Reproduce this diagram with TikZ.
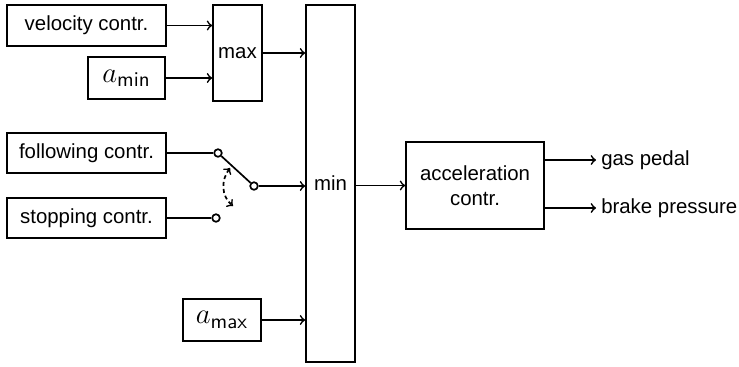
\documentclass[tikz,border=0pt]{standalone}
\usepackage{fontspec}
\setmainfont{Liberation Sans}
\usetikzlibrary{positioning,calc}

\begin{document}
\begin{tikzpicture}[x=0.5pt,y=-0.5pt,line width=0.85pt,
    font=\fontsize{10.2}{12.2}\selectfont,
    block/.style={rectangle,draw,inner sep=0pt},
    pin/.style={circle,draw,fill=white,inner sep=0pt,minimum size=3.8pt},
    mathlabel/.style={font=\fontsize{15}{17}\selectfont}]
    \useasboundingbox (0,0) rectangle (739,366);

    % max of velocity controller and a_min
    \node[block,minimum width=79.5pt,minimum height=20.5pt] (vel) at (86.5,25.5) {velocity contr.};
    \node[block,mathlabel,minimum width=38.5pt,minimum height=21pt] (amin) at (126.5,78) {$a_{\mathsf{min}}$};
    \node[block,minimum width=24.5pt,minimum height=48pt] (maxb) at (237.5,53) {max};
    \draw[->] (vel.east) -- (vel.east -| maxb.west);
    \draw[->] (amin.east) -- (amin.east -| maxb.west);

    % min block
    \node[block,minimum width=24.5pt,minimum height=178.5pt] (minb) at (330.5,183.5) {min};
    \draw[->] (maxb.east) -- (maxb.east -| minb.west);

    % switch between following and stopping
    \node[block,minimum width=79.5pt,minimum height=20pt] (follow) at (86.5,153) {following contr.};
    \node[block,minimum width=79.5pt,minimum height=20pt] (stop) at (86.5,218) {stopping contr.};
    \node[pin] (p1) at (218,153) {};
    \node[pin] (p2) at (254,186) {};
    \node[pin] (p3) at (216,218) {};
    \draw (follow.east) -- (p1);
    \draw (stop.east) -- (p3);
    \draw (p1) -- (p2);
    \draw[->] (p2) -- (p2 -| minb.west);
    \coordinate (sw1) at (230,168);
    \coordinate (sw2) at (233,206);
    \draw[<->,dash pattern=on 2pt off 1.5pt] (sw1) .. controls (221,180) and (221,196) .. (sw2);

    % a_max
    \node[block,mathlabel,minimum width=39pt,minimum height=21pt] (amax) at (222,320) {$a_{\mathsf{max}}$};
    \draw[->] (amax.east) -- (amax.east -| minb.west);

    % acceleration controller
    \node[block,minimum width=69pt,minimum height=43.5pt,align=center] (acc) at (475,185.5) {acceleration\\contr.};
    \draw[->] (minb.east |- acc.west) -- (acc.west);
    \node[anchor=west,inner sep=2.2pt] (gas) at (596,160) {gas pedal};
    \node[anchor=west,inner sep=2.2pt] (brake) at (596,208) {brake pressure};
    \draw[->] (acc.east |- gas.west) -- (gas.west);
    \draw[->] (acc.east |- brake.west) -- (brake.west);
\end{tikzpicture}
\end{document}
